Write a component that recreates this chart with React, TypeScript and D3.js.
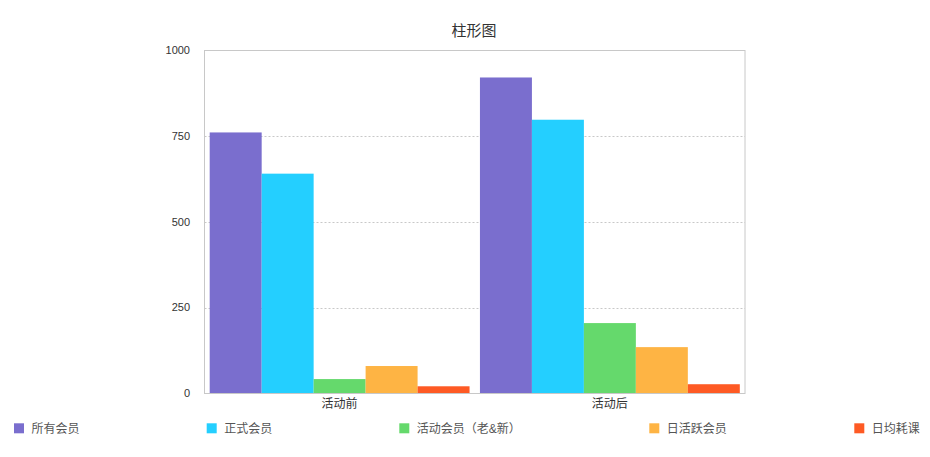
import React from "react";
import * as d3 from "d3";

const categories = ["活动前", "活动后"];
const seriesNames = ["所有会员", "正式会员", "活动会员（老&新）", "日活跃会员", "日均耗课"];
const allMembers = [760, 920];
const formalMembers = [640, 797];
const activityMembers = [42, 205];
const dailyActive = [80, 135];
const dailyLessons = [21, 27];
const yTicks = [0, 250, 500, 750, 1000];
const colors = ["#7A6ECE", "#24CFFF", "#65D96C", "#FEB444", "#FE5A24"];

const seriesValues = [allMembers, formalMembers, activityMembers, dailyActive, dailyLessons];

const W = 930;
const H = 457;
const plot = { left: 204.5, right: 745, top: 50, bottom: 393.5 };
const legendX = [14, 206.7, 399.3, 649.3, 854.3];
const FONT = "'Liberation Sans', Arial, 'Noto Sans CJK SC', sans-serif";

export default function App() {
  const x = d3.scaleBand<string>().domain(categories).range([plot.left, plot.right]).padding(0);
  const xi = d3
    .scaleBand<string>()
    .domain(seriesNames)
    .range([0, x.bandwidth()])
    .paddingInner(0)
    .paddingOuter(0.1);
  const y = d3.scaleLinear().domain([0, 1000]).range([plot.bottom, plot.top]);

  return (
    <svg
      width={W}
      height={H}
      style={{ position: "absolute", left: 0, top: 0, fontFamily: FONT }}
    >
      <rect x={0} y={0} width={W} height={H} fill="#fff" />
      <text x={474} y={36} textAnchor="middle" fontSize={15} fill="#333">
        柱形图
      </text>
      {yTicks
        .filter((t) => t !== 0 && t !== 1000)
        .map((t) => (
          <line
            key={"g" + t}
            x1={plot.left}
            x2={plot.right}
            y1={Math.round(y(t)) + 0.5}
            y2={Math.round(y(t)) + 0.5}
            stroke="#c8c8c8"
            strokeDasharray="2,2"
          />
        ))}
      {yTicks.map((t) => (
        <text
          key={"t" + t}
          x={190}
          y={y(t)}
          dy="0.35em"
          textAnchor="end"
          fontSize={11}
          fill="#333"
        >
          {t}
        </text>
      ))}
      {categories.map((c, ci) => (
        <g key={c}>
          {seriesNames.map((s, si) => {
            const v = seriesValues[si][ci];
            return (
              <rect
                key={s}
                x={(x(c) as number) + (xi(s) as number)}
                y={y(v)}
                width={xi.bandwidth()}
                height={plot.bottom - y(v)}
                fill={colors[si]}
              />
            );
          })}
          <text
            x={(x(c) as number) + x.bandwidth() / 2}
            y={408}
            textAnchor="middle"
            fontSize={12}
            fill="#333"
          >
            {c}
          </text>
        </g>
      ))}
      <rect
        x={plot.left}
        y={plot.top + 0.5}
        width={plot.right - plot.left}
        height={plot.bottom - plot.top - 0.5}
        fill="none"
        stroke="#c8c8c8"
        strokeWidth={1}
      />
      {seriesNames.map((s, si) => (
        <g key={"l" + s} transform={`translate(${legendX[si]},0)`}>
          <rect x={0} y={423.3} width={10} height={10} fill={colors[si]} />
          <text x={17.5} y={432.5} fontSize={12} fill="#555">
            {s}
          </text>
        </g>
      ))}
    </svg>
  );
}
